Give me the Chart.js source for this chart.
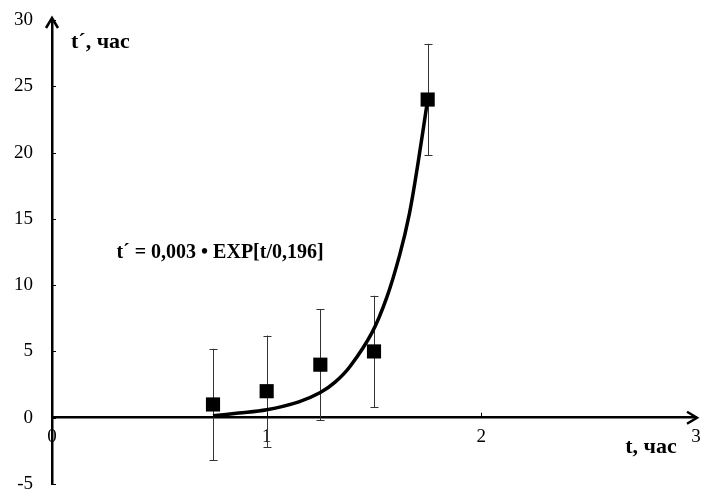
<!DOCTYPE html>
<html><head><meta charset="utf-8">
<script src="https://cdn.jsdelivr.net/npm/chart.js@4/dist/chart.umd.min.js"></script>
<style>html,body{margin:0;padding:0;background:#fff}#wrap{width:702px;height:490px}</style>
</head><body><div id="wrap"><canvas id="c" width="702" height="490"></canvas></div>
<script>
// measured data
const pointX = [0.75, 1.0, 1.25, 1.5, 1.75];
const pointY = [1, 2, 4, 5, 24];
const errorY = [4.2, 4.2, 4.2, 4.2, 4.2];
// trend curve
const trendX = [0.75, 0.87, 1.0, 1.15, 1.25, 1.32, 1.39, 1.49, 1.56, 1.62, 1.665, 1.705, 1.75];
const trendY = [0.15, 0.35, 0.6, 1.2, 1.9, 2.7, 3.9, 6.4, 9.1, 12.3, 15.4, 19.2, 24];
const xTicks = [0, 1, 2, 3];
const yTicks = [-5, 0, 5, 10, 15, 20, 25, 30];
const yTitle = "t´, час";
const xTitle = "t, час";
const equation = "t´ = 0,003 • EXP[t/0,196]";

const FONT = "'Liberation Serif', 'Times New Roman', serif";

const extras = {
  id: 'extras',
  beforeDatasetsDraw(chart) {
    const ctx = chart.ctx, xs = chart.scales.x, ys = chart.scales.y;
    ctx.save();
    // error bars
    ctx.strokeStyle = '#333';
    ctx.lineWidth = 1;
    for (let i = 0; i < pointX.length; i++) {
      const px = Math.round(xs.getPixelForValue(pointX[i])) + 0.5;
      const top = ys.getPixelForValue(pointY[i] + errorY[i]);
      const bot = ys.getPixelForValue(pointY[i] - errorY[i]);
      ctx.beginPath();
      ctx.moveTo(px, top); ctx.lineTo(px, bot);
      ctx.moveTo(px - 4, Math.round(top) + 0.5); ctx.lineTo(px + 4, Math.round(top) + 0.5);
      ctx.moveTo(px - 4, Math.round(bot) + 0.5); ctx.lineTo(px + 4, Math.round(bot) + 0.5);
      ctx.stroke();
    }
    ctx.restore();
  },
  afterDraw(chart) {
    const ctx = chart.ctx, xs = chart.scales.x, ys = chart.scales.y;
    const x0 = xs.getPixelForValue(0), y0 = ys.getPixelForValue(0);
    ctx.save();
    ctx.strokeStyle = '#000';
    // tick marks
    ctx.lineWidth = 1;
    ctx.beginPath();
    yTicks.forEach(v => {
      const py = Math.round(ys.getPixelForValue(v)) + 0.5;
      ctx.moveTo(x0, py); ctx.lineTo(x0 + 4, py);
    });
    xTicks.slice(1, 3).forEach(v => {
      const px = Math.round(xs.getPixelForValue(v)) + 0.5;
      ctx.moveTo(px, y0); ctx.lineTo(px, y0 - 5);
    });
    ctx.stroke();
    // arrows
    ctx.lineWidth = 2.5;
    const topY = ys.getPixelForValue(30) - 2;
    ctx.beginPath();
    ctx.moveTo(x0, ys.getPixelForValue(30)); ctx.lineTo(x0, topY);
    ctx.moveTo(x0 - 6, topY + 10); ctx.lineTo(x0, topY); ctx.lineTo(x0 + 6, topY + 10);
    ctx.stroke();
    const rx = xs.getPixelForValue(3) + 1;
    ctx.beginPath();
    ctx.moveTo(xs.getPixelForValue(3), y0); ctx.lineTo(rx, y0);
    ctx.moveTo(rx - 10, y0 - 6); ctx.lineTo(rx, y0); ctx.lineTo(rx - 10, y0 + 6);
    ctx.stroke();
    // texts
    ctx.fillStyle = '#000';
    ctx.textBaseline = 'middle';
    ctx.textAlign = 'left';
    ctx.font = "bold 22px " + FONT;
    ctx.fillText(yTitle, x0 + 19, ys.getPixelForValue(28.3));
    ctx.fillText(xTitle, xs.getPixelForValue(2.67), ys.getPixelForValue(-2.2));
    ctx.font = "bold 20px " + FONT;
    ctx.fillText(equation, xs.getPixelForValue(0.3), ys.getPixelForValue(12.4));
    ctx.restore();
  }
};

new Chart(document.getElementById('c'), {
  type: 'scatter',
  data: {
    datasets: [
      {
        label: 'points',
        data: pointX.map((x, i) => ({x, y: pointY[i]})),
        pointStyle: 'rect',
        pointRadius: 10,
        pointHoverRadius: 10,
        backgroundColor: '#000',
        borderColor: '#000',
        borderWidth: 0,
        showLine: false,
        order: 0
      },
      {
        label: 'trend',
        data: trendX.map((x, i) => ({x, y: trendY[i]})),
        showLine: true,
        pointRadius: 0,
        borderColor: '#000',
        borderWidth: 3.5,
        tension: 0.35,
        fill: false,
        order: 1
      }
    ]
  },
  options: {
    responsive: false,
    animation: false,
    devicePixelRatio: 1,
    layout: { autoPadding: false, padding: { top: 20, right: 6, bottom: 6, left: 0 } },
    plugins: { legend: { display: false }, tooltip: { enabled: false } },
    scales: {
      x: {
        type: 'linear',
        position: { y: 0 },
        min: 0, max: 3,
        afterBuildTicks(scale) { scale.ticks = xTicks.map(v => ({value: v})); },
        afterFit(scale) { scale.paddingLeft = 0; scale.paddingRight = 0; scale.paddingTop = 0; scale.paddingBottom = 0; },
        ticks: { autoSkip: false, maxRotation: 0, padding: 8, color: '#000', font: { family: FONT, size: 19 } },
        grid: { display: true, drawOnChartArea: false, drawTicks: false },
        border: { display: true, color: '#000', width: 2.5 }
      },
      y: {
        type: 'linear',
        position: 'left',
        min: -5, max: 30,
        afterBuildTicks(scale) { scale.ticks = yTicks.map(v => ({value: v})); },
        afterFit(scale) { scale.width = 52; scale.paddingTop = 0; scale.paddingBottom = 0; scale.paddingLeft = 0; scale.paddingRight = 0; },
        ticks: { autoSkip: false, padding: 19, color: '#000', font: { family: FONT, size: 19 } },
        grid: { display: true, drawOnChartArea: false, drawTicks: false },
        border: { display: true, color: '#000', width: 2.5 }
      }
    }
  },
  plugins: [extras]
});
</script>
</body></html>
